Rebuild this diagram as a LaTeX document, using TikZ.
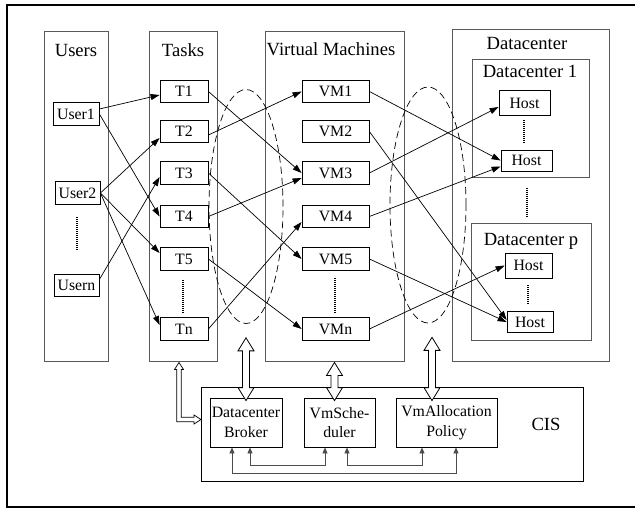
\documentclass[tikz,border=0pt]{standalone}
\usepackage{fontspec}
\setmainfont{Liberation Serif}
\usetikzlibrary{arrows.meta,shapes.geometric,calc}

\newcommand{\bigtext}{\fontsize{18.6}{20}\selectfont}
\newcommand{\smalltext}{\fontsize{15.8}{19.5}\selectfont}

% hollow double-headed arrow, #1 top point, #2 node anchor below it
\newcommand{\hollowarrow}[2]{%
    \coordinate (ha1) at #1;
    \coordinate (ha2) at ($(ha1 |- #2)+(0,3)$);
    \draw[fill=white, line width=0.8pt] (ha1) -- ($(ha1)+(8,13)$) -- ($(ha1)+(3.5,13)$)
        -- ($(ha2)+(3.5,-13)$) -- ($(ha2)+(8,-13)$) -- (ha2) -- ($(ha2)+(-8,-13)$)
        -- ($(ha2)+(-3.5,-13)$) -- ($(ha1)+(-3.5,13)$) -- ($(ha1)+(-8,13)$) -- cycle;
}

\begin{document}
\begin{tikzpicture}[x=1pt, y=-1pt,
    column/.style={draw=black!65, line width=1pt, inner sep=0pt, minimum height=329},
    box/.style={draw, line width=0.8pt, inner sep=0pt, font=\smalltext, minimum height=22.5},
    title/.style={font=\bigtext, inner sep=0pt, anchor=base},
    link/.style={line width=0.7pt, -{Triangle[length=9pt,width=6pt]}},
    ring/.style={draw, ellipse, inner sep=0pt, dash pattern=on 7pt off 4pt, line width=0.7pt},
    dots/.style={line width=1.2pt, dash pattern=on 1pt off 1pt},
    feedback/.style={draw=black!70, line width=0.8pt, {Triangle[length=6pt,width=5pt]}-{Triangle[length=6pt,width=5pt]}}
]

    \useasboundingbox (0,0) rectangle (635,508);

    % Outer frame (right side is cut off in the picture)
    \draw[line width=2pt] (635,5) -- (7,5) -- (7,507) -- (635,507);

    % The four columns
    \node[column, minimum width=64] (usrcol) at (76,196.5) {};
    \node[column, minimum width=68] (tskcol) at (183,196.5) {};
    \node[column, minimum width=139] (vmcol) at (334.5,196.5) {};
    \node[column, minimum width=157, minimum height=331] (dccol) at (530.5,195.5) {};
    \node[column, minimum width=117, minimum height=118] (dc1) at (530.5,119) {};
    \node[column, minimum width=120, minimum height=117] (dcp) at (531,281.5) {};

    % Column titles
    \node[title] (usrlbl) at (76,57) {Users};
    \node[title] (tsklbl) at (183,57) {Tasks};
    \node[title] (vmlbl) at (331,56) {Virtual Machines};
    \node[title] (dclbl) at (527,50) {Datacenter};
    \node[title] (dc1lbl) at (530,78) {Datacenter 1};
    \node[title] (dcplbl) at (531,245) {Datacenter p};

    % Users
    \node[box, minimum width=46] (user1) at (76,114) {User1};
    \node[box, minimum width=45] (user2) at (77.5,193) {User2};
    \node[box, minimum width=45] (usern) at (76.5,285.5) {Usern};
    \draw[dots] (77,217) -- (77,250);

    % Tasks
    \node[box, minimum width=48] (t1) at (184,91.5) {T1};
    \node[box, minimum width=48] (t2) at (184,131.5) {T2};
    \node[box, minimum width=48] (t3) at (184,173) {T3};
    \node[box, minimum width=48] (t4) at (184,216.5) {T4};
    \node[box, minimum width=48] (t5) at (184,259) {T5};
    \node[box, minimum width=48] (tn) at (184,329) {Tn};
    \draw[dots] (183,280) -- (183,313);

    % Virtual machines
    \node[box, minimum width=67] (vm1) at (335.5,91.5) {VM1};
    \node[box, minimum width=67] (vm2) at (335.5,131.5) {VM2};
    \node[box, minimum width=67] (vm3) at (335.5,173) {VM3};
    \node[box, minimum width=67] (vm4) at (335.5,216.5) {VM4};
    \node[box, minimum width=67] (vm5) at (335.5,259) {VM5};
    \node[box, minimum width=67] (vmn) at (335.5,329) {VMn};
    \draw[dots] (335,278) -- (335,313);

    % Hosts
    \node[box, minimum width=51, minimum height=25] (host1) at (524.5,103) {Host};
    \node[box, minimum width=51, minimum height=21] (host2) at (526.5,160.5) {Host};
    \node[box, minimum width=47, minimum height=25] (host3) at (528.5,265.5) {Host};
    \node[box, minimum width=46, minimum height=21] (host4) at (530,322) {Host};
    \draw[dots] (524,120) -- (524,143);
    \draw[dots] (527,188) -- (527,217);
    \draw[dots] (528,285) -- (528,305);

    % Dashed rings round the mappings
    \node[ring, minimum width=74, minimum height=234] (ring1) at (246,206.5) {};
    \node[ring, minimum width=76, minimum height=236] (ring2) at (428,205) {};

    % Users to tasks
    \draw[link] ([yshift=5pt]user1.east) -- ([yshift=-3.5pt]t1.west);
    \draw[link] (user1.east) -- (t4.west);
    \draw[link] (user2.east) -- ([yshift=-6.5pt]t2.west);
    \draw[link] (user2.east) -- ([yshift=6pt]t5.west);
    \draw[link] (user2.east) -- ([yshift=4pt]tn.west);
    \draw[link] ([yshift=6pt]usern.east) -- ([yshift=-4pt]t3.west);

    % Tasks to virtual machines
    \draw[link] (t1.east) -- (vm3.west);
    \draw[link] ([yshift=-3.5pt]t2.east) -- (vm1.west);
    \draw[link] (t3.east) -- (vm5.west);
    \draw[link] (t4.east) -- ([yshift=-5pt]vm3.west);
    \draw[link] (t5.east) -- (vmn.west);
    \draw[link] (tn.east) -- ([yshift=-5.5pt]vm4.west);

    % Virtual machines to hosts
    \draw[link] (vm1.east) -- (host2.west);
    \draw[link] (vm2.east) -- ([yshift=2pt]host4.west);
    \draw[link] (vm3.east) -- ([yshift=-4pt]host1.west);
    \draw[link] (vm4.east) -- ([yshift=-6pt]host2.west);
    \draw[link] (vm5.east) -- (host4.west);
    \draw[link] (vmn.east) -- (host3.west);

    % CIS and its three parts
    \node[draw, line width=0.8pt, inner sep=0pt, minimum width=382, minimum height=94] (cis) at (392,434) {};
    \node[title] (cislbl) at (546,430) {CIS};
    \node[box, minimum width=72, minimum height=49, align=center] (brk) at (246,422.5) {Datacenter\\Broker};
    \node[box, minimum width=71, minimum height=49, align=center] (sch) at (339.5,422.5) {VmSche-\\duler};
    \node[box, minimum width=101, minimum height=49, align=center] (alc) at (446.5,422.5) {VmAllocation\\Policy};

    % Hollow arrows down to the CIS parts
    \hollowarrow{([yshift=-14pt]ring1.south)}{brk.north}
    \hollowarrow{([yshift=-1pt]vmcol.south)}{sch.north}
    \hollowarrow{([xshift=4pt,yshift=-14pt]ring2.south)}{alc.north}

    % Hollow elbow arrow from the tasks to the CIS
    \coordinate (elb) at ([xshift=-4pt,yshift=-1pt]tskcol.south);
    \draw[fill=white, line width=0.7pt] (elb) -- ++(4.5,7) -- ++(-2.3,0) -- ++(0,47.8) -- ++(12.8,0)
        -- ++(0,-2.3) -- ++(7,4.5) -- ++(-7,4.5) -- ++(0,-2.3) -- ++(-17.2,0) -- ++(0,-52.2)
        -- ++(-2.3,0) -- cycle;

    % Links between the CIS parts
    \draw[feedback] ([xshift=4pt]brk.south) -- ++(0,18) -| ([xshift=-14.5pt]sch.south);
    \draw[feedback] ([xshift=7.5pt]sch.south) -- ++(0,18) -| ([xshift=-24.5pt]alc.south);
    \draw[feedback] ([xshift=-14pt]brk.south) -- ++(0,26) -| ([xshift=9.5pt]alc.south);

\end{tikzpicture}
\end{document}
